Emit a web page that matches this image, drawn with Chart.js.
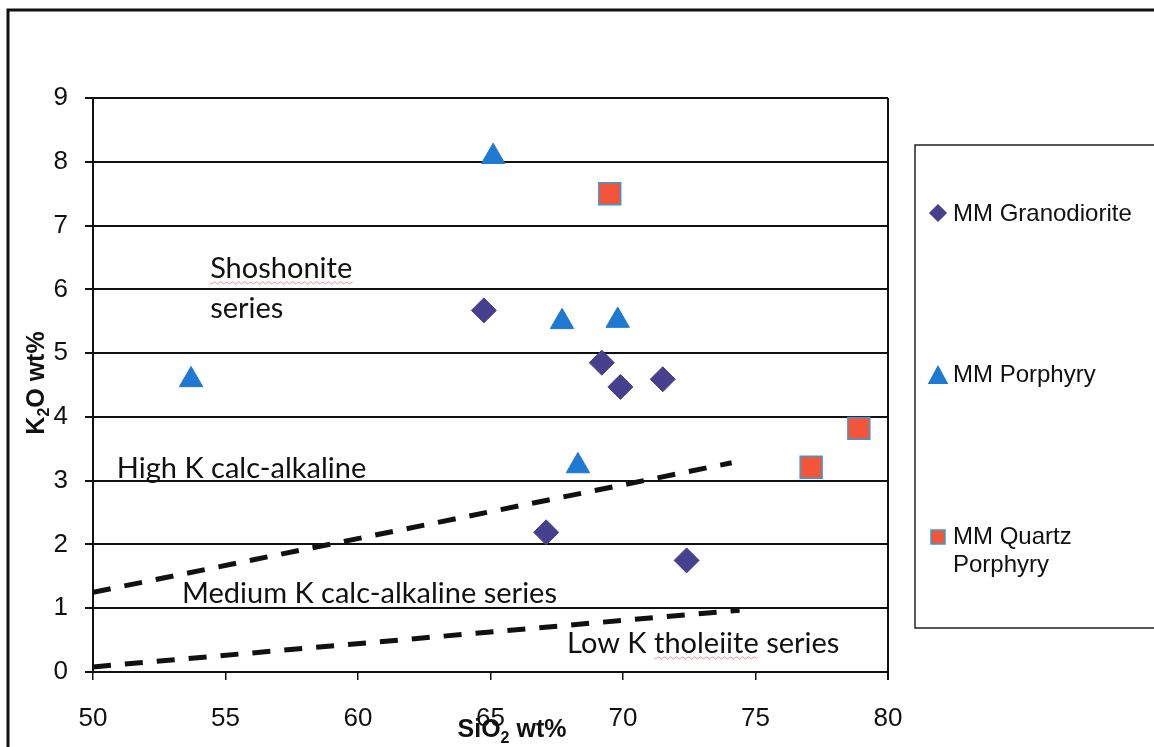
<!DOCTYPE html>
<html lang="en">
<head>
<meta charset="UTF-8">
<title>K2O vs SiO2</title>
<script src="https://cdn.jsdelivr.net/npm/chart.js@4.4.0/dist/chart.umd.min.js"></script>
<style>
  html, body { margin: 0; padding: 0; background: #fff; }
  #wrap { position: relative; width: 1154px; height: 747px; }
</style>
</head>
<body>
<div id="wrap">
  <canvas id="tasChart" width="1154" height="747"></canvas>
</div>
<script>
// SiO2 / K2O values
const granodioriteSiO2 = [64.75, 69.2, 69.9, 71.5, 67.1, 72.4];
const granodioriteK2O  = [5.67, 4.85, 4.47, 4.59, 2.19, 1.75];

const porphyrySiO2 = [65.1, 53.7, 67.7, 69.8, 68.3];
const porphyryK2O  = [8.08, 4.58, 5.49, 5.51, 3.23];

const quartzPorphyrySiO2 = [69.5, 78.9, 77.1];
const quartzPorphyryK2O  = [7.5, 3.82, 3.21];

// series boundary lines (dashed)
const highKBoundarySiO2 = [50, 74.1];
const highKBoundaryK2O  = [1.25, 3.28];
const lowKBoundarySiO2  = [50, 74.4];
const lowKBoundaryK2O   = [0.08, 0.97];

const xTicks = [50, 55, 60, 65, 70, 75, 80];
const yTicks = [0, 1, 2, 3, 4, 5, 6, 7, 8, 9];

const seriesNames = ['MM Granodiorite', 'MM Porphyry', 'MM Quartz Porphyry'];

// field labels, anchored at SiO2 / K2O (left, baseline)
const fieldLabels = [
    { text: 'Shoshonite', x: 54.42, y: 6.18, squiggle: true },
    { text: 'series', x: 54.42, y: 5.55 },
    { text: 'High K calc-alkaline', x: 50.9, y: 3.04 },
    { text: 'Medium K calc-alkaline series', x: 53.36, y: 1.08 },
    { text: 'Low K tholeiite series', x: 67.89, y: 0.30, squiggleWord: 'tholeiite' }
];

const toPoints = (xs, ys) => xs.map((x, i) => ({ x: x, y: ys[i] }));

const SANS = '"Liberation Sans", Arial, sans-serif';
const LABEL_FONT = '29px Lato, "Open Sans", sans-serif';

const colGrano = '#46408f';
const colPorph = '#1f78d1';
const colQtz = '#f2553a';
const colQtzEdge = '#3a9ad0';

function squiggle(ctx, x0, x1, y) {
    ctx.save();
    ctx.strokeStyle = 'rgba(220,110,120,0.7)';
    ctx.lineWidth = 1;
    ctx.beginPath();
    ctx.moveTo(x0, y);
    for (let x = x0; x < x1; x += 3) {
        ctx.lineTo(x + 1.5, y + ((x - x0) / 3 % 2 ? -1 : 1));
    }
    ctx.stroke();
    ctx.restore();
}

function drawMarker(ctx, style, x, y, r, fill, edge) {
    ctx.save();
    ctx.fillStyle = fill;
    ctx.strokeStyle = edge || fill;
    ctx.lineWidth = 1.5;
    ctx.beginPath();
    if (style === 'diamond') {
        ctx.moveTo(x, y - r); ctx.lineTo(x + r, y); ctx.lineTo(x, y + r); ctx.lineTo(x - r, y);
    } else if (style === 'triangle') {
        ctx.moveTo(x, y - r); ctx.lineTo(x + r * 0.95, y + r * 0.75); ctx.lineTo(x - r * 0.95, y + r * 0.75);
    } else {
        ctx.rect(x - r, y - r, 2 * r, 2 * r);
    }
    ctx.closePath();
    ctx.fill();
    ctx.stroke();
    ctx.restore();
}

const decorPlugin = {
    id: 'decor',
    beforeDraw(chart) {
        const ctx = chart.ctx;
        ctx.save();
        ctx.fillStyle = '#fff';
        ctx.fillRect(0, 0, chart.width, chart.height);
        // outer chart frame (left + top edges visible)
        ctx.strokeStyle = '#111';
        ctx.lineWidth = 3;
        ctx.beginPath();
        ctx.moveTo(8, chart.height);
        ctx.lineTo(8, 10);
        ctx.lineTo(chart.width, 10);
        ctx.stroke();
        ctx.restore();
    },
    beforeDatasetsDraw(chart) {
        const ctx = chart.ctx;
        const xs = chart.scales.x, ys = chart.scales.y;
        ctx.save();
        ctx.fillStyle = '#111';
        ctx.font = LABEL_FONT;
        ctx.textBaseline = 'alphabetic';
        ctx.textAlign = 'left';
        fieldLabels.forEach(l => {
            const px = xs.getPixelForValue(l.x);
            const py = ys.getPixelForValue(l.y);
            ctx.fillText(l.text, px, py);
            if (l.squiggle) {
                squiggle(ctx, px, px + ctx.measureText(l.text).width, py + 5);
            }
            if (l.squiggleWord) {
                const idx = l.text.indexOf(l.squiggleWord);
                const sx = px + ctx.measureText(l.text.slice(0, idx)).width;
                squiggle(ctx, sx, sx + ctx.measureText(l.squiggleWord).width, py + 5);
            }
        });
        ctx.restore();
    },
    afterDraw(chart) {
        const ctx = chart.ctx;
        const a = chart.chartArea;
        ctx.save();
        // right edge of the plot area
        ctx.strokeStyle = '#111';
        ctx.lineWidth = 2;
        ctx.beginPath();
        ctx.moveTo(a.right, a.top);
        ctx.lineTo(a.right, a.bottom + 8);
        ctx.stroke();

        // axis titles with subscripts
        ctx.fillStyle = '#111';
        ctx.textBaseline = 'alphabetic';
        const big = 'bold 25px ' + SANS;
        const small = 'bold 16px ' + SANS;

        // x title: SiO2 wt%
        const xParts = [['SiO', big, 0], ['2', small, 6], [' wt%', big, 0]];
        let w = 0;
        xParts.forEach(p => { ctx.font = p[1]; w += ctx.measureText(p[0]).width; });
        let cx = 512 - w / 2;
        xParts.forEach(p => {
            ctx.font = p[1];
            ctx.fillText(p[0], cx, 737 + p[2]);
            cx += ctx.measureText(p[0]).width;
        });

        // y title: K2O wt%
        ctx.save();
        ctx.translate(44, 383);
        ctx.rotate(-Math.PI / 2);
        const yParts = [['K', big, 0], ['2', small, 5], ['O wt%', big, 0]];
        w = 0;
        yParts.forEach(p => { ctx.font = p[1]; w += ctx.measureText(p[0]).width; });
        cx = -w / 2;
        yParts.forEach(p => {
            ctx.font = p[1];
            ctx.fillText(p[0], cx, p[2]);
            cx += ctx.measureText(p[0]).width;
        });
        ctx.restore();

        // legend box
        ctx.strokeStyle = '#222';
        ctx.lineWidth = 1.5;
        ctx.strokeRect(915, 145, 260, 483);
        ctx.font = '24px ' + SANS;
        ctx.textBaseline = 'middle';
        drawMarker(ctx, 'diamond', 938, 213, 8, colGrano);
        ctx.fillStyle = '#111';
        ctx.fillText(seriesNames[0], 953, 214);
        drawMarker(ctx, 'triangle', 938, 376, 9.5, colPorph);
        ctx.fillStyle = '#111';
        ctx.fillText(seriesNames[1], 953, 375);
        drawMarker(ctx, 'square', 938, 537, 7, colQtz, colQtzEdge);
        ctx.fillStyle = '#111';
        ctx.fillText('MM Quartz', 953, 537);
        ctx.fillText('Porphyry', 953, 565);
        ctx.restore();
    }
};

new Chart(document.getElementById('tasChart'), {
    type: 'scatter',
    data: {
        datasets: [
            {
                label: seriesNames[0],
                data: toPoints(granodioriteSiO2, granodioriteK2O),
                pointStyle: 'rectRot',
                pointRadius: 12.5,
                backgroundColor: colGrano,
                borderColor: colGrano,
                borderWidth: 1
            },
            {
                label: seriesNames[1],
                data: toPoints(porphyrySiO2, porphyryK2O),
                pointStyle: 'triangle',
                pointRadius: 13.5,
                backgroundColor: colPorph,
                borderColor: colPorph,
                borderWidth: 1
            },
            {
                label: seriesNames[2],
                data: toPoints(quartzPorphyrySiO2, quartzPorphyryK2O),
                pointStyle: 'rect',
                pointRadius: 15.5,
                backgroundColor: colQtz,
                borderColor: colQtzEdge,
                borderWidth: 1.5
            },
            {
                label: 'high K boundary',
                data: toPoints(highKBoundarySiO2, highKBoundaryK2O),
                showLine: true,
                pointRadius: 0,
                borderColor: '#111',
                borderWidth: 5,
                borderDash: [18, 14]
            },
            {
                label: 'low K boundary',
                data: toPoints(lowKBoundarySiO2, lowKBoundaryK2O),
                showLine: true,
                pointRadius: 0,
                borderColor: '#111',
                borderWidth: 5,
                borderDash: [18, 14]
            }
        ]
    },
    options: {
        responsive: false,
        animation: false,
        devicePixelRatio: 1,
        layout: { padding: { left: 0, top: 98, right: 266, bottom: 0 } },
        plugins: {
            legend: { display: false },
            tooltip: { enabled: false }
        },
        scales: {
            x: {
                type: 'linear',
                min: 50,
                max: 80,
                afterFit: s => { s.height = 75; },
                afterBuildTicks: s => { s.ticks = xTicks.map(v => ({ value: v })); },
                grid: {
                    drawOnChartArea: false,
                    drawTicks: true,
                    tickLength: 8,
                    color: '#111',
                    lineWidth: 1.5
                },
                border: { display: true, color: '#111', width: 2 },
                ticks: {
                    padding: 23,
                    color: '#111',
                    font: { family: SANS, size: 26 }
                }
            },
            y: {
                type: 'linear',
                min: 0,
                max: 9,
                afterFit: s => { s.width = 93; },
                afterBuildTicks: s => { s.ticks = yTicks.map(v => ({ value: v })); },
                grid: {
                    drawOnChartArea: true,
                    drawTicks: true,
                    tickLength: 8,
                    color: '#111',
                    lineWidth: 2
                },
                border: { display: true, color: '#111', width: 2 },
                ticks: {
                    padding: 17,
                    color: '#111',
                    font: { family: SANS, size: 26 }
                }
            }
        }
    },
    plugins: [decorPlugin]
});
</script>
</body>
</html>
